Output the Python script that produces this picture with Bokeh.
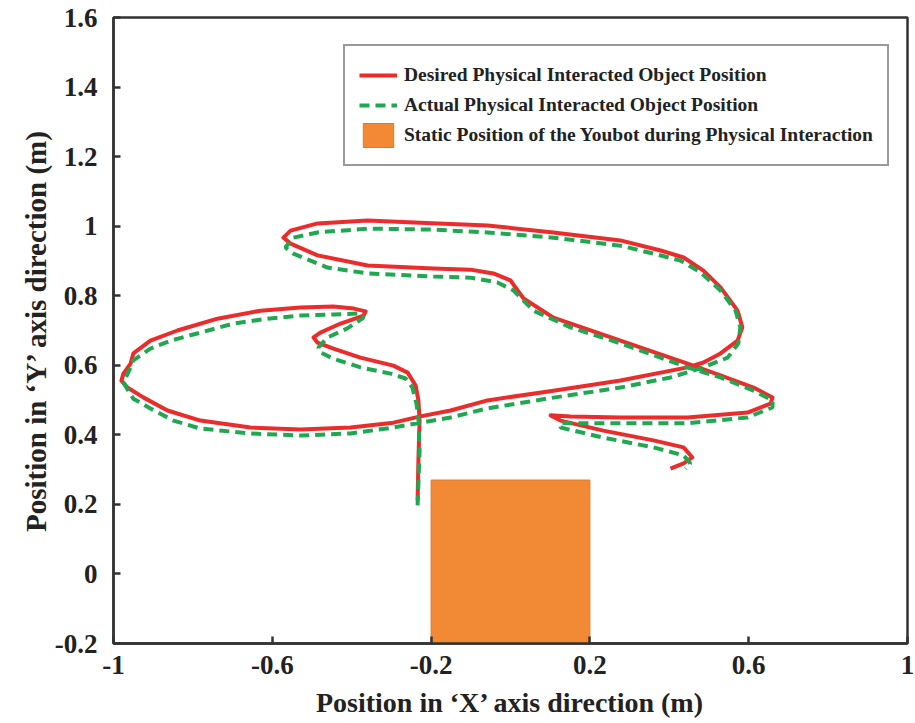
from bokeh.plotting import figure
from bokeh.models import Legend, LegendItem, FixedTicker, Range1d
from bokeh.embed import file_html
from bokeh.resources import INLINE

# Desired (red) trajectory
desired_x = [-0.234, -0.232, -0.229, -0.232, -0.239, -0.259, -0.295, -0.378, -0.446, -0.486,
             -0.496, -0.479, -0.428, -0.370, -0.365, -0.395, -0.446, -0.529, -0.630, -0.738,
             -0.839, -0.907, -0.950, -0.957, -0.975, -0.980, -0.965, -0.924, -0.864, -0.781,
             -0.655, -0.529, -0.403, -0.295, -0.227, -0.151, -0.058, 0.108, 0.277, 0.446,
             0.486, 0.529, 0.572, 0.584, 0.572, 0.529, 0.486, 0.436, 0.378, 0.277,
             0.108, -0.058, -0.227, -0.360, -0.486, -0.554, -0.572, -0.554, -0.486, -0.360,
             -0.194, -0.101, -0.043, 0.000, 0.018, 0.033, 0.108, 0.277, 0.446, 0.529,
             0.612, 0.660, 0.655, 0.597, 0.446, 0.277, 0.151, 0.101, 0.126, 0.234,
             0.360, 0.436, 0.458, 0.436, 0.403]
desired_y = [0.211, 0.326, 0.441, 0.499, 0.542, 0.579, 0.599, 0.622, 0.648, 0.665,
             0.680, 0.694, 0.720, 0.743, 0.755, 0.763, 0.769, 0.766, 0.757, 0.734,
             0.700, 0.671, 0.634, 0.605, 0.576, 0.556, 0.536, 0.507, 0.470, 0.441,
             0.421, 0.415, 0.421, 0.435, 0.453, 0.470, 0.499, 0.527, 0.556, 0.594,
             0.608, 0.634, 0.671, 0.709, 0.757, 0.824, 0.872, 0.910, 0.930, 0.959,
             0.982, 1.002, 1.010, 1.016, 1.008, 0.987, 0.967, 0.950, 0.916, 0.887,
             0.878, 0.875, 0.864, 0.844, 0.815, 0.792, 0.737, 0.671, 0.605, 0.571,
             0.536, 0.507, 0.490, 0.464, 0.450, 0.450, 0.453, 0.456, 0.441, 0.412,
             0.384, 0.364, 0.335, 0.318, 0.303]

# Actual (green dashed) trajectory
actual_x = [-0.234, -0.229, -0.232, -0.237, -0.247, -0.264, -0.302, -0.378, -0.446, -0.479,
            -0.484, -0.461, -0.411, -0.370, -0.378, -0.446, -0.529, -0.612, -0.698, -0.781,
            -0.856, -0.907, -0.950, -0.957, -0.975, -0.950, -0.907, -0.849, -0.781, -0.655,
            -0.529, -0.403, -0.295, -0.227, -0.151, -0.058, 0.108, 0.277, 0.403, 0.486,
            0.547, 0.574, 0.579, 0.567, 0.529, 0.479, 0.428, 0.360, 0.277, 0.108,
            -0.058, -0.194, -0.360, -0.486, -0.547, -0.567, -0.547, -0.461, -0.360, -0.194,
            -0.101, -0.033, 0.008, 0.025, 0.058, 0.151, 0.277, 0.446, 0.529, 0.612,
            0.660, 0.660, 0.597, 0.446, 0.277, 0.151, 0.126, 0.126, 0.234, 0.360,
            0.436, 0.453, 0.441]
actual_y = [0.197, 0.355, 0.450, 0.490, 0.536, 0.562, 0.576, 0.594, 0.619, 0.637,
            0.651, 0.680, 0.706, 0.737, 0.749, 0.746, 0.743, 0.734, 0.720, 0.694,
            0.671, 0.648, 0.614, 0.594, 0.550, 0.504, 0.476, 0.441, 0.418, 0.404,
            0.398, 0.404, 0.421, 0.435, 0.450, 0.476, 0.507, 0.536, 0.565, 0.594,
            0.622, 0.663, 0.709, 0.757, 0.815, 0.867, 0.901, 0.921, 0.944, 0.967,
            0.982, 0.990, 0.993, 0.982, 0.967, 0.939, 0.921, 0.881, 0.864, 0.855,
            0.852, 0.838, 0.815, 0.795, 0.757, 0.709, 0.663, 0.594, 0.565, 0.527,
            0.499, 0.479, 0.450, 0.433, 0.433, 0.433, 0.435, 0.421, 0.392, 0.364,
            0.341, 0.318, 0.303]

# Static Youbot region
youbot_x = [-0.2, 0.2]
youbot_y = [-0.2, 0.27]

x_ticks = [-1, -0.6, -0.2, 0.2, 0.6, 1]
x_tick_labels = ["-1", "-0.6", "-0.2", "0.2", "0.6", "1"]
y_ticks = [-0.2, 0, 0.2, 0.4, 0.6, 0.8, 1.0, 1.2, 1.4, 1.6]
y_tick_labels = ["-0.2", "0", "0.2", "0.4", "0.6", "0.8", "1", "1.2", "1.4", "1.6"]

labels = ["Desired Physical Interacted Object Position",
          "Actual Physical Interacted Object Position",
          "Static Position of the Youbot during Physical Interaction"]

FONT = "Liberation Serif"
RED = "#ec2b2b"
GREEN = "#1fa84f"
ORANGE = "#f28a35"

p = figure(width=915, height=723, output_backend="svg", toolbar_location=None,
           x_range=Range1d(-1, 1), y_range=Range1d(-0.2, 1.6),
           min_border_left=113, min_border_right=8, min_border_top=17, min_border_bottom=80)
p.xgrid.visible = False
p.ygrid.visible = False
p.background_fill_color = "white"
p.border_fill_color = "white"
p.outline_line_color = "#333333"
p.outline_line_width = 2.5

box = p.quad(left=youbot_x[0], right=youbot_x[1], bottom=youbot_y[0], top=youbot_y[1],
             fill_color=ORANGE, line_color="#d97a30", line_width=1)
r_des = p.line(desired_x, desired_y, line_color=RED, line_width=4, line_join="round")
r_act = p.line(actual_x, actual_y, line_color=GREEN, line_width=4, line_dash="10 6")

for ax in (p.xaxis[0], p.yaxis[0]):
    ax.axis_line_color = "#333333"
    ax.axis_line_width = 2.5
    ax.major_tick_line_color = "#333333"
    ax.major_tick_line_width = 2.5
    ax.major_tick_in = 7
    ax.major_tick_out = 0
    ax.minor_tick_line_color = None
    ax.major_label_text_font = FONT
    ax.major_label_text_font_style = "bold"
    ax.major_label_text_font_size = "27px"
    ax.major_label_text_color = "#222222"
    ax.axis_label_text_font = FONT
    ax.axis_label_text_font_style = "bold"
    ax.axis_label_text_font_size = "28px"
    ax.axis_label_text_color = "#222222"

p.yaxis[0].axis_label_text_font_size = "29px"

p.xaxis[0].ticker = FixedTicker(ticks=x_ticks)
p.xaxis[0].major_label_overrides = dict(zip(x_ticks, x_tick_labels))
p.yaxis[0].ticker = FixedTicker(ticks=y_ticks)
p.yaxis[0].major_label_overrides = dict(zip(y_ticks, y_tick_labels))
p.xaxis[0].axis_label = "Position in \u2018X\u2019 axis direction (m)"
p.yaxis[0].axis_label = "Position in \u2018Y\u2019 axis direction (m)"
p.xaxis[0].major_label_standoff = 12
p.xaxis[0].axis_label_standoff = 10
p.yaxis[0].major_label_standoff = 16
p.yaxis[0].axis_label_standoff = 0

legend = Legend(items=[LegendItem(label=labels[0], renderers=[r_des]),
                       LegendItem(label=labels[1], renderers=[r_act]),
                       LegendItem(label=labels[2], renderers=[box])],
                location=(230, 477))
legend.border_line_color = "#333333"
legend.border_line_width = 2
legend.background_fill_alpha = 1
legend.label_text_font = FONT
legend.label_text_font_style = "bold"
legend.label_text_font_size = "19.5px"
legend.label_text_color = "#222222"
legend.glyph_width = 38
legend.glyph_height = 30
legend.label_height = 30
legend.label_standoff = 7
legend.spacing = 0
legend.padding = 14
legend.margin = 0
p.add_layout(legend)

open("out.html", "w").write(file_html(p, INLINE))
